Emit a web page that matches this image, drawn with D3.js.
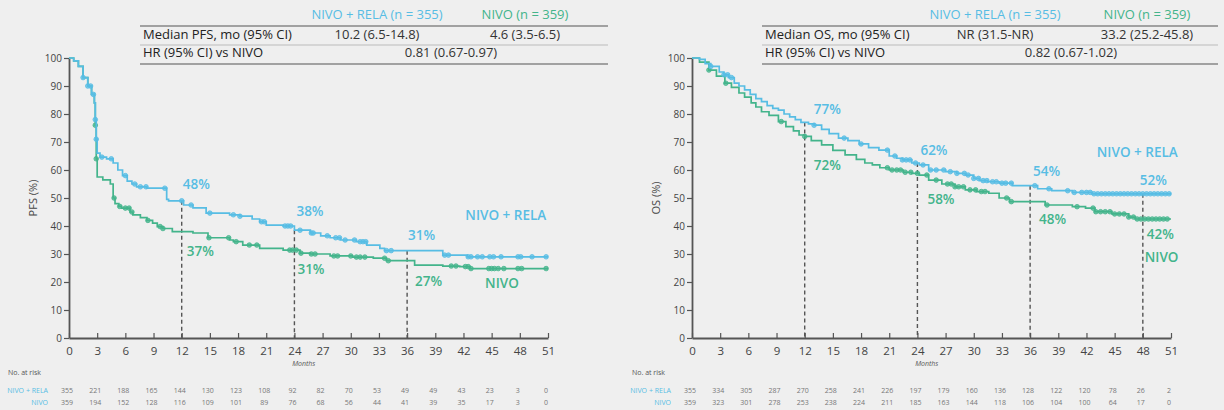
<!DOCTYPE html>
<html>
<head>
<meta charset="utf-8">
<script src="https://cdn.jsdelivr.net/npm/d3@7"></script>
<style>
  body { margin: 0; background: #efefef; }
  svg { display: block; font-family: "Open Sans", sans-serif; }
</style>
</head>
<body>
<svg width="1224" height="410"></svg>
<script>
// ---- data ----
const monthTicks = [0, 3, 6, 9, 12, 15, 18, 21, 24, 27, 30, 33, 36, 39, 42, 45, 48, 51];
const yTicks = [0, 10, 20, 30, 40, 50, 60, 70, 80, 90, 100];

// PFS, [month, %]
const pfsRela = [[0,100],[0.5,99],[1,97],[1.5,93],[2,90],[2.4,87],[2.7,84],[2.8,78],[2.9,71],[3.0,66],[3.3,64.6],[4.0,64],[4.7,62.5],[5.2,60],[5.7,58],[6.2,56],[6.7,55],[7.2,54],[8.3,53.5],[10.4,49.5],[10.6,49],[12.2,47.5],[13.2,46.5],[14.6,44.6],[17.1,44],[18.2,43.5],[19.5,42.5],[20.3,41.5],[21,40.3],[22.8,40],[24,38.5],[25.7,37.5],[26.8,36.5],[27.8,35.8],[28.9,35],[30.6,34.4],[31.7,33.2],[33.1,32],[33.6,31.2],[39.8,29.6],[42.4,29]];
const pfsNivo = [[0,100],[0.5,99],[1,97],[1.5,93],[2,90],[2.4,87],[2.7,84],[2.8,76],[2.9,64],[3.0,57.5],[3.6,56.5],[4.4,55],[4.7,50],[4.9,48],[5.3,47],[5.6,46.4],[6.5,45],[6.8,44],[7.6,43],[8.3,42],[8.9,41],[9.4,39.8],[10,39.1],[11,38],[13.2,37.5],[14.8,35.8],[17.1,35],[17.5,34.4],[18.5,33.2],[20.3,32],[22.8,31.4],[24.6,30.3],[25.7,30],[27.8,29.3],[30.2,28.9],[32.4,28.5],[33.8,27.6],[36.8,26],[39.8,25.7],[41.6,25.5],[42.7,24.8]];
const pfsRelaCensor = [1.5, 2.0, 2.3, 2.6, 2.8, 2.9, 3.5, 4.5, 6.0, 7.0, 7.6, 8.2, 10.2, 12.0, 13.0, 15.0, 17.5, 18.2, 20.5, 20.8, 23.0, 23.3, 23.6, 24.6, 25.8, 26.0, 27.5, 28.4, 28.8, 29.4, 30.4, 31.0, 31.3, 31.6, 33.8, 34.3, 40.0, 40.4, 42.5, 42.8, 43.5, 44.0, 44.8, 45.2, 46.0, 47.8, 48.1, 49.3, 50.8];
const pfsNivoCensor = [2.8, 2.9, 4.8, 5.4, 6.0, 6.4, 6.7, 8.4, 9.7, 10.0, 14.9, 17.0, 17.8, 19.2, 20.0, 23.5, 23.8, 24.2, 24.7, 25.8, 26.2, 28.2, 28.6, 30.0, 30.6, 31.0, 31.5, 33.6, 34.0, 40.7, 41.2, 42.2, 42.5, 42.8, 44.7, 45.0, 45.3, 45.7, 46.3, 47.8, 48.2, 50.8];

// OS, [month, %]
const osRela = [[0,100],[0.8,99.5],[1.4,98],[2,97],[2.9,95],[3.4,94],[3.9,93],[4.5,91],[5.0,90],[5.6,88.6],[6.2,87],[6.8,85.5],[7.4,84.4],[8.0,83],[8.6,82],[9.2,81.4],[9.8,80],[10.4,79],[11,78],[11.6,77],[12.4,76.5],[13,76],[13.8,74.5],[14.6,73],[15.6,71.4],[16.6,70.5],[17.8,69.3],[18.8,68],[19.9,67.1],[21,65],[21.8,64.2],[22.4,63.6],[23.4,62.5],[24.2,61.8],[25.2,60],[27,59.4],[28.2,58.8],[29.1,58.2],[30,57],[30.6,56.2],[31.5,55.8],[32.7,55.3],[34.1,54.4],[36.8,53.3],[38.3,52.6],[40.5,52],[42.6,51.5]];
const osNivo = [[0,100],[0.8,98.5],[1.8,95.7],[2.6,93.5],[3.5,91],[4.2,89.5],[5,87.5],[5.6,86],[6.3,84],[6.8,82.5],[7.4,80.8],[8.2,79.5],[9.2,77.3],[10,75.5],[10.8,74],[11.4,72.5],[12,72],[12.7,70.5],[13.8,69],[15,67],[16.3,65.4],[17.5,63.8],[18.4,62.5],[19.2,61.8],[20,60.8],[21,60],[22.5,59.2],[23.4,58.8],[24.2,58.2],[25.2,56.4],[26.6,55],[28,54],[29.1,52.9],[30.3,52.3],[31.6,51.7],[32.7,50],[33.8,48.7],[37.6,47.5],[40.5,46.9],[41.9,46.4],[42.9,45.1],[44.7,44.3],[46.5,43.2],[47.2,42.5]];
const osRelaCensor = [2.0, 3.4, 3.8, 4.2, 13.0, 16.2, 18.0, 20.8, 21.6, 22.4, 22.8, 23.2, 23.8, 24.6, 25.4, 26.0, 26.8, 27.5, 28.2, 29.0, 29.4, 30.0, 30.5, 31.0, 31.4, 32.0, 32.4, 33.0, 33.4, 34.0, 36.5, 38.0, 40.0, 40.7, 41.5, 42.0, 42.4, 42.8, 43.2, 43.6, 44.0, 44.4, 44.8, 45.2, 45.6, 46.0, 46.4, 46.8, 47.2, 47.6, 48.0, 48.4, 48.8, 49.2, 49.6, 50.0, 50.4, 50.8];
const osNivoCensor = [1.8, 3.6, 9.5, 12.0, 20.8, 21.3, 21.8, 22.2, 22.7, 23.3, 24.0, 25.0, 26.0, 27.2, 27.6, 28.0, 28.4, 28.9, 29.6, 30.2, 30.8, 31.2, 33.5, 34.0, 37.8, 41.0, 42.7, 43.0, 43.5, 44.0, 44.5, 45.0, 45.5, 46.0, 46.5, 47.0, 47.4, 47.8, 48.2, 48.6, 49.0, 49.4, 49.8, 50.2, 50.6];

// landmarks
const pfsLandmarks = [12, 24, 36];
const pfsRelaPct = ["48%", "38%", "31%"];
const pfsNivoPct = ["37%", "31%", "27%"];
const osLandmarks = [12, 24, 36, 48];
const osRelaPct = ["77%", "62%", "54%", "52%"];
const osNivoPct = ["72%", "58%", "48%", "42%"];

// numbers at risk
const pfsRiskRela = [355, 221, 188, 165, 144, 130, 123, 108, 92, 82, 70, 53, 49, 49, 43, 23, 3, 0];
const pfsRiskNivo = [359, 194, 152, 128, 116, 109, 101, 89, 76, 68, 56, 44, 41, 39, 35, 17, 3, 0];
const osRiskRela = [355, 334, 305, 287, 270, 258, 241, 226, 197, 179, 160, 136, 128, 122, 120, 78, 26, 2];
const osRiskNivo = [359, 323, 301, 278, 253, 238, 224, 211, 185, 163, 144, 118, 106, 104, 100, 64, 17, 0];

// header tables
const pfsTable = {
  head: ["NIVO + RELA (n = 355)", "NIVO (n = 359)"],
  median: ["Median PFS, mo (95% CI)", "10.2 (6.5-14.8)", "4.6 (3.5-6.5)"],
  hr: ["HR (95% CI) vs NIVO", "0.81 (0.67-0.97)"]
};
const osTable = {
  head: ["NIVO + RELA (n = 355)", "NIVO (n = 359)"],
  median: ["Median OS, mo (95% CI)", "NR (31.5-NR)", "33.2 (25.2-45.8)"],
  hr: ["HR (95% CI) vs NIVO", "0.82 (0.67-1.02)"]
};

const BLUE = "#57bde4";
const GREEN = "#43b48b";
const svg = d3.select("svg");

svg.append("rect").attr("width", 1224).attr("height", 410).attr("fill", "#efefef");

function valueAt(curve, t) {
  let v = curve[0][1];
  for (const p of curve) { if (p[0] <= t) v = p[1]; else break; }
  return v;
}

function drawPanel(p) {
  const x = d3.scaleLinear().domain([0, 51]).range([p.x0, p.x1]);
  const y = d3.scaleLinear().domain([0, 100]).range([338, 58]);
  const g = svg.append("g");

  // header table
  const t = p.table;
  const hd = g.append("g").attr("font-size", 13);
  hd.append("text").attr("x", p.col1).attr("y", 19).attr("text-anchor", "middle").attr("fill", BLUE).text(t.head[0]);
  hd.append("text").attr("x", p.col2).attr("y", 19).attr("text-anchor", "middle").attr("fill", GREEN).text(t.head[1]);
  hd.append("line").attr("x1", p.tl).attr("x2", p.tr).attr("y1", 26).attr("y2", 26).attr("stroke", "#555").attr("stroke-width", 1.2);
  hd.append("text").attr("x", p.tl + 3).attr("y", 39).attr("fill", "#222").text(t.median[0]);
  hd.append("text").attr("x", p.col1).attr("y", 39).attr("text-anchor", "middle").attr("fill", "#333").text(t.median[1]);
  hd.append("text").attr("x", p.col2).attr("y", 39).attr("text-anchor", "middle").attr("fill", "#333").text(t.median[2]);
  hd.append("line").attr("x1", p.tl).attr("x2", p.tr).attr("y1", 45).attr("y2", 45).attr("stroke", "#999").attr("stroke-width", 0.6);
  hd.append("text").attr("x", p.tl + 3).attr("y", 57).attr("fill", "#222").text(t.hr[0]);
  hd.append("text").attr("x", (p.col1 + p.col2) / 2).attr("y", 57).attr("text-anchor", "middle").attr("fill", "#333").text(t.hr[1]);
  hd.append("line").attr("x1", p.tl).attr("x2", p.tr).attr("y1", 64).attr("y2", 64).attr("stroke", "#555").attr("stroke-width", 1.2);

  // landmark dashes
  p.landmarks.forEach(m => {
    g.append("line")
      .attr("x1", x(m)).attr("x2", x(m))
      .attr("y1", y(valueAt(p.rela, m))).attr("y2", y(0))
      .attr("stroke", "#555").attr("stroke-width", 1.4).attr("stroke-dasharray", "4,3");
  });

  // axes
  const xAxis = g.append("g").attr("transform", `translate(0,${y(0)})`)
    .call(d3.axisBottom(x).tickValues(monthTicks).tickSize(-5).tickPadding(9).tickSizeOuter(0));
  const yAxis = g.append("g").attr("transform", `translate(${x(0)},0)`)
    .call(d3.axisLeft(y).tickValues(yTicks).tickSize(5).tickPadding(2).tickSizeOuter(0));
  [xAxis, yAxis].forEach(a => {
    a.select(".domain").attr("stroke", "#555").attr("stroke-width", 1.8);
    a.selectAll(".tick line").attr("stroke", "#555").attr("stroke-width", 1.2);
    a.selectAll(".tick text").attr("fill", "#444").attr("font-family", "Open Sans").attr("font-size", 11.5);
  });
  yAxis.selectAll(".tick text").attr("font-size", 10);

  g.append("text").attr("transform", `translate(${p.x0 - 32},${y(50)}) rotate(-90)`)
    .attr("text-anchor", "middle").attr("font-size", 11).attr("fill", "#444").text(p.yLabel);
  g.append("text").attr("x", x(25)).attr("y", 366).attr("text-anchor", "middle")
    .attr("font-size", 7).attr("font-style", "italic").attr("fill", "#555").text("Months");

  // curves
  const line = d3.line().x(d => x(d[0])).y(d => y(d[1])).curve(d3.curveStepAfter);
  [[p.nivo, GREEN, p.nivoCensor], [p.rela, BLUE, p.relaCensor]].forEach(([c, col, cens]) => {
    const pts = c.concat([[51, c[c.length - 1][1]]]);
    g.append("path").datum(pts).attr("d", line)
      .attr("fill", "none").attr("stroke", col).attr("stroke-width", 1.7);
    g.selectAll(null).data(cens).enter().append("circle")
      .attr("cx", d => x(d)).attr("cy", d => y(valueAt(c, d)))
      .attr("r", 2.3).attr("fill", col).attr("fill-opacity", 0.75)
      .attr("stroke", col).attr("stroke-width", 0.8);
  });

  // landmark labels
  const lab = g.append("g").attr("font-size", 13.5).attr("font-weight", 600);
  p.landmarks.forEach((m, i) => {
    lab.append("text").attr("x", x(m) + p.relaDx[i]).attr("y", y(valueAt(p.rela, m)) + p.relaDy[i])
      .attr("fill", BLUE).text(p.relaPct[i]);
    lab.append("text").attr("x", x(m) + p.nivoDx[i]).attr("y", y(valueAt(p.nivo, m)) + p.nivoDy[i])
      .attr("fill", GREEN).text(p.nivoPct[i]);
  });
  lab.append("text").attr("x", x(p.relaName[0])).attr("y", y(p.relaName[1])).attr("fill", BLUE).text("NIVO + RELA");
  lab.append("text").attr("x", x(p.nivoName[0])).attr("y", y(p.nivoName[1])).attr("fill", GREEN).text("NIVO");

  // numbers at risk
  const rk = g.append("g").attr("font-size", 7);
  rk.append("text").attr("x", p.riskLeft).attr("y", 375).attr("fill", "#555").text("No. at risk");
  rk.append("text").attr("x", p.riskLabel).attr("y", 393).attr("text-anchor", "end").attr("fill", BLUE).text("NIVO + RELA");
  rk.append("text").attr("x", p.riskLabel).attr("y", 405).attr("text-anchor", "end").attr("fill", BLUE).text("NIVO");
  rk.selectAll(null).data(p.riskRela).enter().append("text")
    .attr("x", (d, i) => x(monthTicks[i]) - 2).attr("y", 393).attr("text-anchor", "middle").attr("fill", "#777").text(d => d);
  rk.selectAll(null).data(p.riskNivo).enter().append("text")
    .attr("x", (d, i) => x(monthTicks[i]) - 2).attr("y", 405).attr("text-anchor", "middle").attr("fill", "#777").text(d => d);
}

drawPanel({
  x0: 69, x1: 548, table: pfsTable, tl: 140, tr: 608, col1: 377, col2: 525,
  yLabel: "PFS (%)", rela: pfsRela, nivo: pfsNivo, relaCensor: pfsRelaCensor, nivoCensor: pfsNivoCensor,
  landmarks: pfsLandmarks, relaPct: pfsRelaPct, nivoPct: pfsNivoPct,
  relaDx: [1, 2, 1], relaDy: [-12, -14, -11], nivoDx: [5, 3, 8], nivoDy: [24, 24, 25],
  relaName: [42.2, 42.3], nivoName: [44.3, 18],
  riskLeft: 8, riskLabel: 48, riskRela: pfsRiskRela, riskNivo: pfsRiskNivo
});

drawPanel({
  x0: 692, x1: 1171, table: osTable, tl: 762, tr: 1218, col1: 995, col2: 1147,
  yLabel: "OS (%)", rela: osRela, nivo: osNivo, relaCensor: osRelaCensor, nivoCensor: osNivoCensor,
  landmarks: osLandmarks, relaPct: osRelaPct, nivoPct: osNivoPct,
  relaDx: [9, 3, 3, -3], relaDy: [-8, -8, -10, -9], nivoDx: [9, 10, 9, 4], nivoDy: [34, 31, 22, 20],
  relaName: [43.1, 64.7], nivoName: [48.2, 27.2],
  riskLeft: 632, riskLabel: 671, riskRela: osRiskRela, riskNivo: osRiskNivo
});
</script>
</body>
</html>
